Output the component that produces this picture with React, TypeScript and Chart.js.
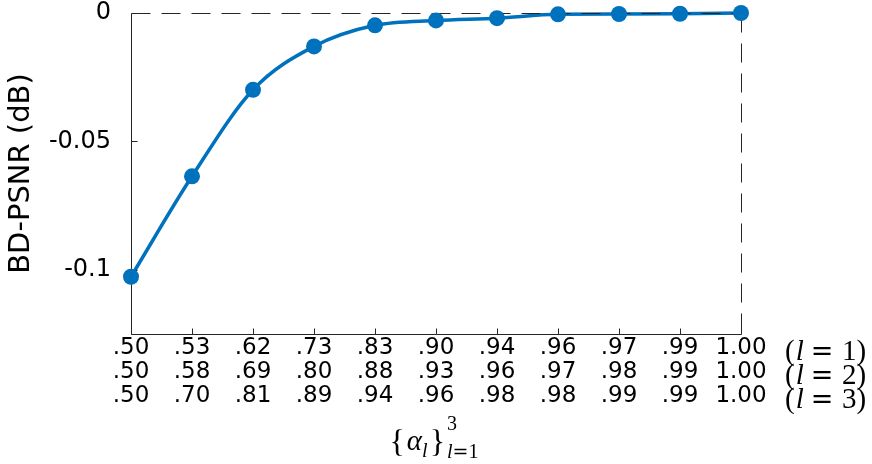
import React, { useEffect, useRef } from "react";
import { Chart, registerables } from "chart.js";

Chart.register(...registerables);

// alpha values for l = 1, 2, 3 (x tick label rows)
const alphaL1 = [".50", ".53", ".62", ".73", ".83", ".90", ".94", ".96", ".97", ".99", "1.00"];
const alphaL2 = [".50", ".58", ".69", ".80", ".88", ".93", ".96", ".97", ".98", ".99", "1.00"];
const alphaL3 = [".50", ".70", ".81", ".89", ".94", ".96", ".98", ".98", ".99", ".99", "1.00"];
const rowTags = ["1", "2", "3"];

// BD-PSNR (dB)
const bdPsnr = [-0.1027, -0.0636, -0.0299, -0.013, -0.0048, -0.0029, -0.002, -0.0005, -0.0004, -0.0003, 0];

const yTickValues = [-0.1, -0.05, 0];
const yTickLabels = ["-0.1", "-0.05", "0"];

const LINE_COLOR = "#0072BD";
const AXIS_COLOR = "#262626";
const TEXT_COLOR = "#000000";
const X_FONT_SIZE = 23;
const X_LINE_HEIGHT = 24;
const X_PAD = 2;
const SERIF = '"Liberation Serif", "DejaVu Serif", serif';
const EQ_FONT = '"DejaVu Serif", serif';

export default function App() {
  const ref = useRef<HTMLCanvasElement>(null);

  useEffect(() => {
    const canvas = ref.current;
    if (!canvas) return;
    const labels = alphaL1.map((a, i) => [a, alphaL2[i], alphaL3[i]]);

    const framePlugin = {
      id: "frame",
      afterDatasetDraw(chart: any, args: any) {
        if (args.index !== 1) return;
        const { ctx, chartArea } = chart;
        const { left, right, top, bottom } = chartArea;
        const L = Math.round(left) + 0.5;
        const R = Math.round(right) + 0.5;
        const T = Math.round(top) + 0.5;
        const B = Math.round(bottom) + 0.5;
        ctx.save();
        ctx.strokeStyle = AXIS_COLOR;
        ctx.lineWidth = 1;
        ctx.setLineDash([19, 11]);
        ctx.beginPath();
        ctx.moveTo(L, T);
        ctx.lineTo(R, T);
        ctx.stroke();
        ctx.beginPath();
        ctx.moveTo(R, T);
        ctx.lineTo(R, B);
        ctx.stroke();
        ctx.setLineDash([]);
        ctx.beginPath();
        ctx.moveTo(L, T);
        ctx.lineTo(L, B);
        ctx.lineTo(R, B);
        ctx.stroke();
        const xs = chart.scales.x;
        ctx.beginPath();
        xs.ticks.forEach((_t: any, i: number) => {
          const px = Math.round(xs.getPixelForTick(i)) + 0.5;
          ctx.moveTo(px, B);
          ctx.lineTo(px, B - 6);
        });
        const ys = chart.scales.y;
        ys.ticks.forEach((t: any) => {
          const py = Math.round(ys.getPixelForValue(t.value)) + 0.5;
          ctx.moveTo(L, py);
          ctx.lineTo(L + 6, py);
        });
        ctx.stroke();
        ctx.restore();
      },
    };

    const mathPlugin = {
      id: "mathText",
      afterDraw(chart: any) {
        const { ctx, chartArea } = chart;
        const { left, right, bottom } = chartArea;
        ctx.save();
        ctx.fillStyle = TEXT_COLOR;
        ctx.textBaseline = "alphabetic";
        // (l = k) row tags
        rowTags.forEach((tag, r) => {
          const cy = bottom + X_PAD + X_LINE_HEIGHT / 2 + r * X_LINE_HEIGHT;
          const base = cy + 12;
          ctx.textAlign = "left";
          ctx.font = `29px ${SERIF}`;
          const x0 = right + 44;
          ctx.fillText("(", x0, base);
          const wp = ctx.measureText("(").width;
          ctx.font = `italic 29px ${SERIF}`;
          ctx.fillText("l", x0 + wp + 1, base);
          ctx.font = `27px ${EQ_FONT}`;
          ctx.textAlign = "center";
          ctx.fillText("=", right + 81, base);
          ctx.textAlign = "left";
          ctx.font = `29px ${SERIF}`;
          const x1 = right + 101;
          ctx.fillText(tag, x1, base);
          const wt = ctx.measureText(tag).width;
          ctx.fillText(")", x1 + wt, base);
        });

        // x-axis title {alpha_l}^3_{l=1}
        const base = bottom + 116;
        type Piece = { t: string; font: string; dy: number; gapAfter: number };
        const big = `32px ${SERIF}`;
        const bigIt = `italic 29px ${SERIF}`;
        const sm = `20px ${SERIF}`;
        const smIt = `italic 20px ${SERIF}`;
        const smEq = `19px ${EQ_FONT}`;
        const main: Piece[] = [
          { t: "{", font: big, dy: 2, gapAfter: 2 },
          { t: "α", font: bigIt, dy: 0, gapAfter: 0 },
          { t: "l", font: smIt, dy: 7, gapAfter: 2 },
          { t: "}", font: big, dy: 2, gapAfter: 2 },
        ];
        const sup: Piece[] = [{ t: "3", font: sm, dy: -20, gapAfter: 0 }];
        const sub: Piece[] = [
          { t: "l", font: smIt, dy: 8, gapAfter: 0 },
          { t: "=", font: smEq, dy: 8, gapAfter: 0 },
          { t: "1", font: sm, dy: 8, gapAfter: 0 },
        ];
        const widthOf = (ps: Piece[]) =>
          ps.reduce((s, p) => {
            ctx.font = p.font;
            return s + ctx.measureText(p.t).width + p.gapAfter;
          }, 0);
        const wMain = widthOf(main);
        const wScripts = Math.max(widthOf(sup), widthOf(sub));
        const total = wMain + wScripts;
        const cx = (left + right) / 2 - 2;
        let x = cx - total / 2;
        ctx.textAlign = "left";
        const drawSeq = (ps: Piece[], sx: number) => {
          let xx = sx;
          ps.forEach((p) => {
            ctx.font = p.font;
            ctx.fillText(p.t, xx, base + p.dy);
            xx += ctx.measureText(p.t).width + p.gapAfter;
          });
          return xx;
        };
        x = drawSeq(main, x);
        drawSeq(sup, x);
        drawSeq(sub, x);
        ctx.restore();
      },
    };

    const chart = new Chart(canvas, {
      type: "line",
      data: {
        labels,
        datasets: [
          {
            data: bdPsnr,
            showLine: false,
            pointRadius: 8,
            pointHoverRadius: 8,
            pointBorderWidth: 0,
            pointBackgroundColor: LINE_COLOR,
            pointBorderColor: LINE_COLOR,
            clip: false,
          },
          {
            data: bdPsnr,
            borderColor: LINE_COLOR,
            borderWidth: 3.5,
            pointRadius: 0,
            pointHoverRadius: 0,
            cubicInterpolationMode: "monotone",
            fill: false,
            clip: false,
          },
        ],
      },
      options: {
        animation: false,
        responsive: false,
        devicePixelRatio: 1,
        events: [],
        layout: { autoPadding: false, padding: { top: 13, right: 131, left: 0, bottom: 0 } },
        plugins: { legend: { display: false }, tooltip: { enabled: false } },
        scales: {
          x: {
            type: "category",
            offset: false,
            grid: { display: false, drawTicks: false },
            border: { display: false },
            ticks: {
              autoSkip: false,
              maxRotation: 0,
              minRotation: 0,
              padding: X_PAD,
              color: TEXT_COLOR,
              font: { family: "DejaVu Sans", size: X_FONT_SIZE, lineHeight: `${X_LINE_HEIGHT}px` },
            },
            afterFit(s: any) {
              s.height = 130;
              s.paddingLeft = 0;
              s.paddingRight = 0;
            },
          },
          y: {
            min: -0.125,
            max: 0,
            grid: { display: false, drawTicks: false },
            border: { display: false },
            afterBuildTicks(s: any) {
              s.ticks = yTickValues.map((v) => ({ value: v }));
            },
            ticks: {
              padding: 20,
              color: TEXT_COLOR,
              font: { family: "DejaVu Sans", size: 24 },
              callback: (v: any) => {
                const i = yTickValues.findIndex((t) => Math.abs(t - Number(v)) < 1e-9);
                return i >= 0 ? yTickLabels[i] : "";
              },
            },
            title: {
              display: true,
              text: "BD-PSNR (dB)",
              color: TEXT_COLOR,
              font: { family: "DejaVu Sans", size: 29, lineHeight: 1.2 },
              padding: { top: 4, bottom: 0 },
            },
            afterFit(s: any) {
              s.width = 131;
              s.paddingTop = 0;
              s.paddingBottom = 0;
            },
          },
        },
      } as any,
      plugins: [framePlugin, mathPlugin],
    });

    return () => chart.destroy();
  }, []);

  return (
    <div style={{ position: "fixed", left: 0, top: 0, width: 872, height: 464, background: "#fff" }}>
      <canvas ref={ref} width={872} height={464} style={{ display: "block", width: 872, height: 464 }} />
    </div>
  );
}
